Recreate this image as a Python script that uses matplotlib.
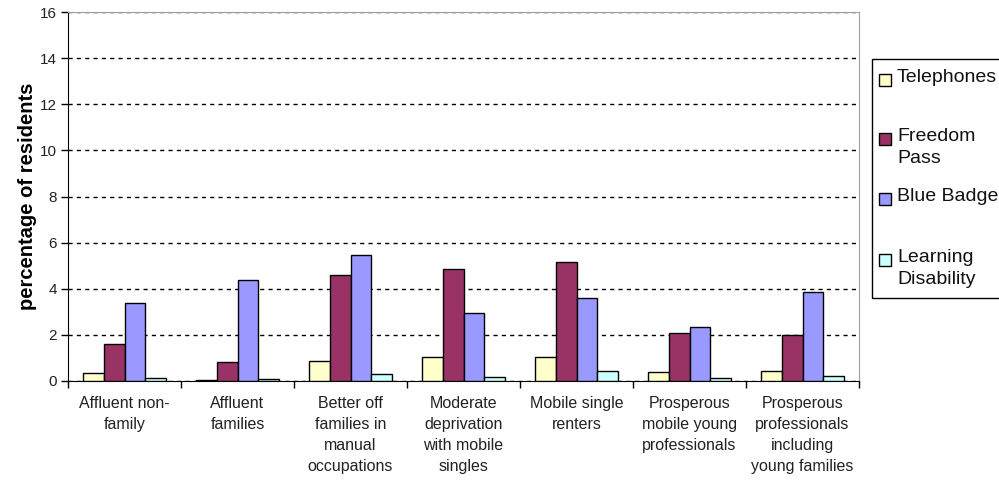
import numpy as np
import matplotlib.pyplot as plt
from matplotlib.patches import Rectangle

plt.rcParams['font.family'] = ['Liberation Sans', 'DejaVu Sans']

# Area classification groups.
categories = [
  'Affluent non-\nfamily',
  'Affluent\nfamilies',
  'Better off\nfamilies in\nmanual\noccupations',
  'Moderate\ndeprivation\nwith mobile\nsingles',
  'Mobile single\nrenters',
  'Prosperous\nmobile young\nprofessionals',
  'Prosperous\nprofessionals\nincluding\nyoung families',
]

# Percentage of residents per service.
telephones = [0.33, 0.03, 0.88, 1.03, 1.03, 0.39, 0.43]
freedomPass = [1.59, 0.82, 4.61, 4.87, 5.15, 2.08, 2.01]
blueBadge = [3.40, 4.38, 5.48, 2.94, 3.61, 2.36, 3.85]
learningDisability = [0.12, 0.07, 0.29, 0.16, 0.43, 0.12, 0.20]

seriesNames = ['Telephones', 'Freedom\nPass', 'Blue Badge', 'Learning\nDisability']
seriesColors = ['#FFFFCC', '#993366', '#9999FF', '#CCFFFF']
series = [telephones, freedomPass, blueBadge, learningDisability]

W, H, DPI = 999, 492, 100
fig = plt.figure(figsize=(W / DPI, H / DPI), dpi=DPI)
ax = fig.add_axes([68 / W, 1 - 381 / H, (859 - 68) / W, (381 - 12) / H])

# Excel style grouping: 4 bars plus a 150% gap per category.
x = np.arange(len(categories))
barWidth = 1 / 5.5
for i, (vals, color) in enumerate(zip(series, seriesColors)):
  ax.bar(x + (i - 1.5) * barWidth, vals, barWidth, color=color,
         edgecolor='black', linewidth=1, zorder=3)

ax.set_xlim(-0.5, len(categories) - 0.5)
ax.set_ylim(0, 16)
ax.set_yticks(np.arange(0, 17, 2))
ax.tick_params(axis='y', labelsize=11, length=5, width=1, pad=3,
               labelcolor='#222222')

# Category labels centred, ticks on the category boundaries.
ax.set_xticks(x)
ax.set_xticklabels(categories, fontsize=11.5, linespacing=1.5, color='#222222')
ax.set_xticks(np.arange(len(categories) + 1) - 0.5, minor=True)
ax.tick_params(axis='x', which='major', length=0, pad=11)
ax.tick_params(axis='x', which='minor', length=5, width=1)

ax.yaxis.grid(True, linestyle=(0, (3, 3)), color='black', linewidth=1)
ax.set_axisbelow(True)
for side in ['top', 'right']:
  ax.spines[side].set_color('#A0A0A0')
for side in ['left', 'bottom']:
  ax.spines[side].set_color('black')

ax.set_ylabel('percentage of residents', fontsize=14.5, fontweight='bold')
ax.yaxis.set_label_coords(-0.039, 0.5)

# Legend box, two text lines reserved per entry.
def px(xp, yp):
  return xp / W, 1 - yp / H

legLeft, legTop, legBottom = 872, 59, 298
x0, y0 = px(legLeft, legBottom)
fig.patches.append(Rectangle((x0, y0), (W + 5 - legLeft) / W,
                             (legBottom - legTop) / H, transform=fig.transFigure,
                             facecolor='white', edgecolor='black', linewidth=1))
entryTops = [78, 137, 197, 258]
for name, color, yc in zip(seriesNames, seriesColors, entryTops):
  mx, my = px(879, yc + 8)
  fig.patches.append(Rectangle((mx, my), 12 / W, 12 / H,
                               transform=fig.transFigure, facecolor=color,
                               edgecolor='black', linewidth=1))
  tx, ty = px(897, yc - 9)
  fig.text(tx, ty, name, fontsize=14, va='top', ha='left',
           linespacing=1.4, color='#111111')

fig.savefig('out.png', dpi=DPI, facecolor='white')
